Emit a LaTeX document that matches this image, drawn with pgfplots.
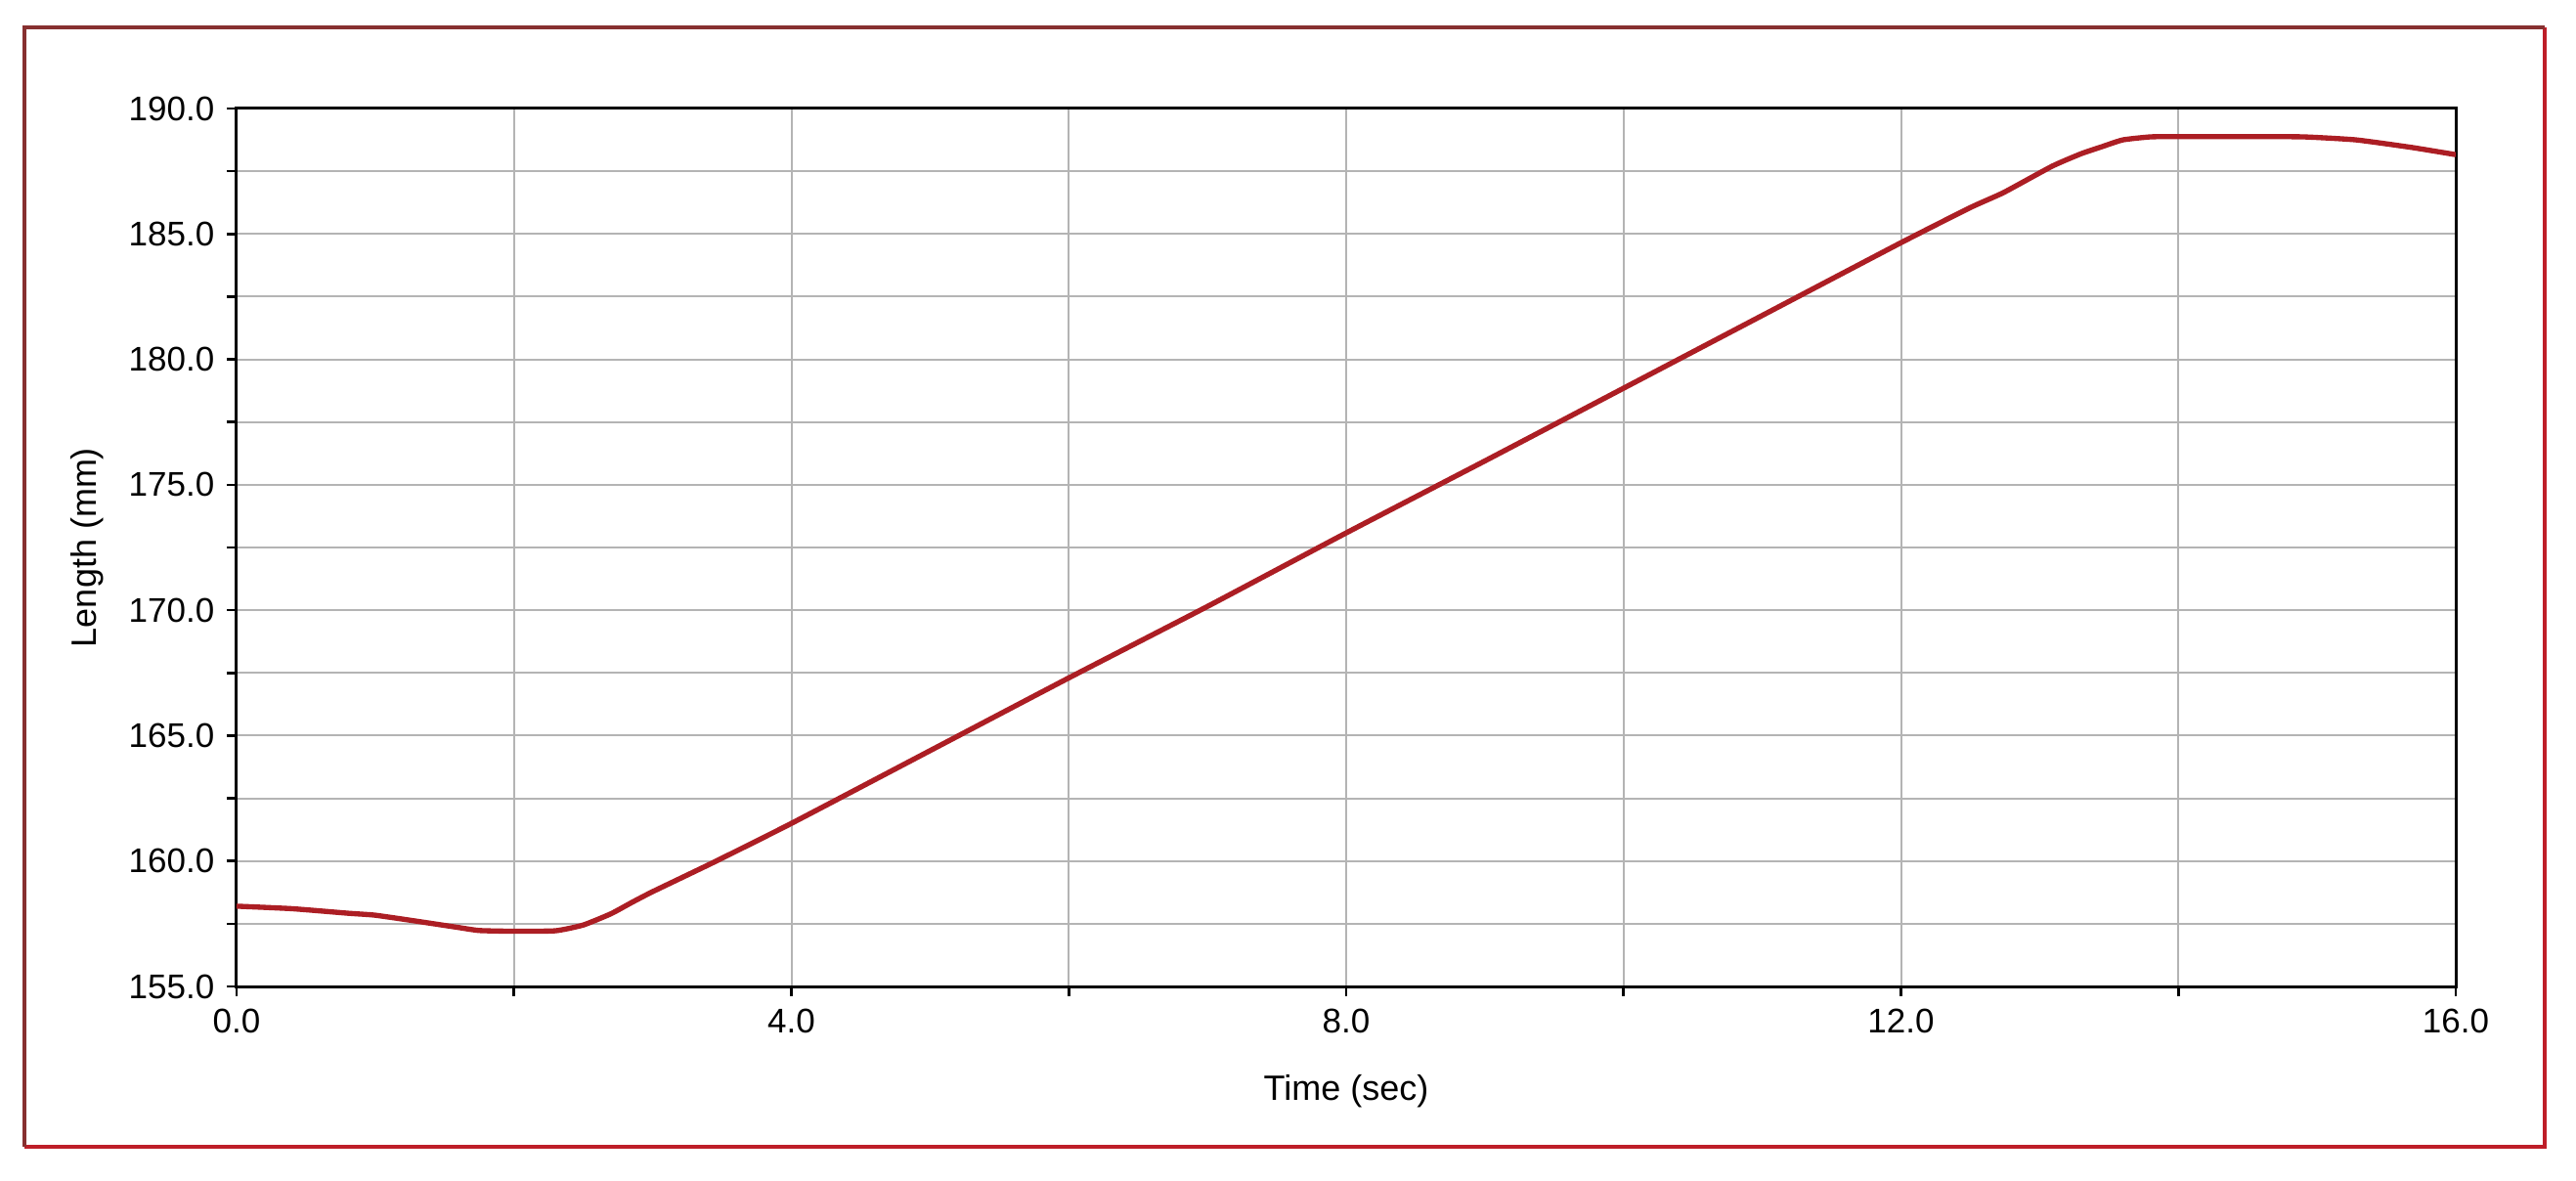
\documentclass[border=0pt]{standalone}
\usepackage{fontspec}
\setmainfont{Liberation Sans}
\usepackage{pgfplots}
\pgfplotsset{compat=1.18}
\definecolor{curvered}{RGB}{172,30,36}
\definecolor{framedark}{RGB}{135,48,48}
\definecolor{framered}{RGB}{190,30,40}
\definecolor{gridgray}{RGB}{180,180,180}
\begin{document}
\begin{tikzpicture}
\path[use as bounding box, fill=white] (0,0) rectangle (790.5pt,362.1pt);
\begin{axis}[
  at={(72.6pt,59.4pt)}, anchor=south west,
  scale only axis,
  width=681pt, height=269.4pt,
  xmin=0, xmax=16, ymin=155, ymax=190,
  xtick={0,4,8,12,16}, minor xtick={2,6,10,14},
  ytick={155,160,165,170,175,180,185,190},
  minor ytick={157.5,162.5,167.5,172.5,177.5,182.5,187.5},
  tick pos=left, tick align=outside,
  major tick length=3pt, minor tick length=3pt,
  every tick/.style={black, line width=0.8pt},
  grid=both,
  major grid style={gridgray, line width=0.6pt},
  minor grid style={gridgray, line width=0.6pt},
  axis line style={black, line width=0.9pt},
  /pgf/number format/assume math mode=true,
  /pgf/number format/.cd, fixed, fixed zerofill, precision=1, /pgfplots/.cd,
  tick label style={font=\fontsize{10.5}{12}\selectfont},
  xticklabel style={anchor=base, inner sep=0pt, yshift=-11.1pt},
  yticklabel style={anchor=east, inner sep=0pt, xshift=-3.6pt},
  label style={font=\fontsize{10.8}{12}\selectfont},
  xlabel={Time (sec)},
  ylabel={Length (mm)},
  xlabel style={at={(axis description cs:0.5,-0.1292)}, anchor=base, inner sep=0pt},
  ylabel style={at={(axis description cs:-0.0634,0.5)}, anchor=base, inner sep=0pt},
]
\addplot[curvered, line width=1.6pt, smooth, tension=0.3] coordinates {
(0,158.20) (0.4,158.10) (0.8,157.92) (1.0,157.84) (1.3,157.60) (1.6,157.35)
(1.75,157.23) (2.0,157.20) (2.3,157.22) (2.5,157.45) (2.7,157.90) (2.85,158.35)
(3.0,158.78) (3.44,159.95) (4.0,161.5) (5.0,164.4) (6.0,167.3) (7.0,170.15)
(8.0,173.08) (9.0,175.95) (10.0,178.85) (11.0,181.75) (12.0,184.65) (12.5,186.05)
(12.74,186.65) (13.09,187.7) (13.3,188.2) (13.45,188.48) (13.6,188.75) (13.8,188.87)
(14.0,188.88) (14.5,188.88) (14.9,188.87) (15.28,188.75) (15.68,188.45) (16.0,188.16)
};
\end{axis}
\draw[framered, line width=1.1pt] (780.9pt,353.7pt) -- (780.9pt,10.2pt) -- (7.5pt,10.2pt);
\draw[framedark, line width=1.1pt] (7.5pt,10.2pt) -- (7.5pt,353.7pt) -- (780.9pt,353.7pt);
\end{tikzpicture}
\end{document}
